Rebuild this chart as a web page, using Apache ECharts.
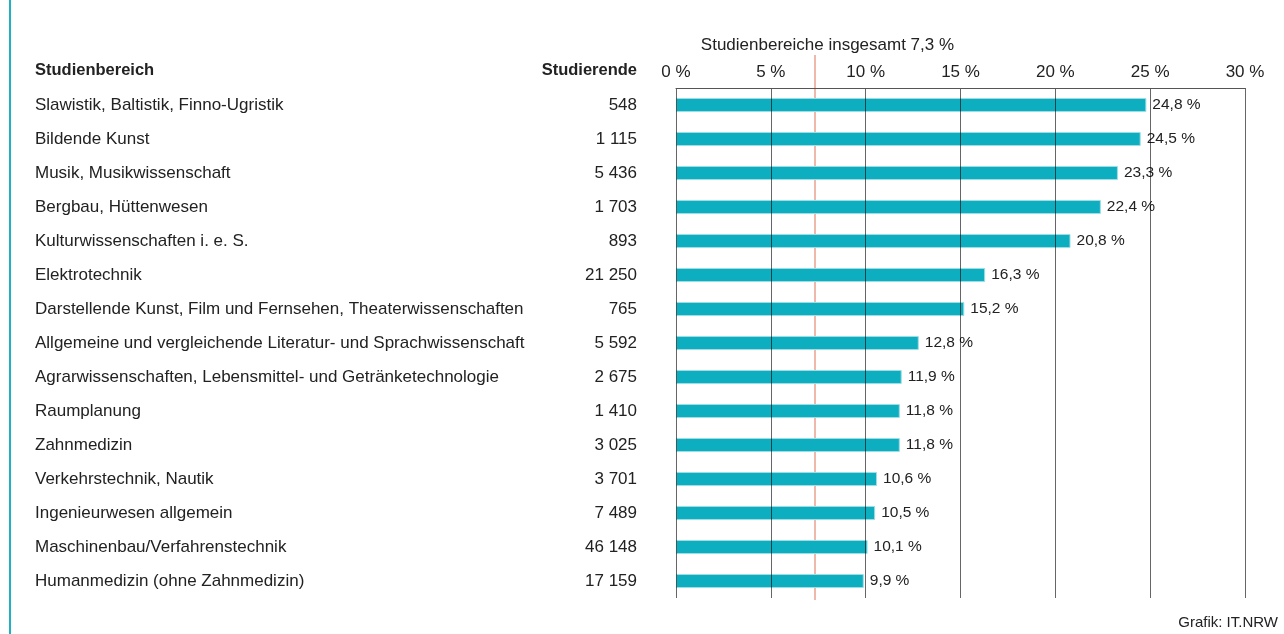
<!DOCTYPE html>
<html lang="de">
<head>
  <meta charset="UTF-8">
  <script src="https://cdn.jsdelivr.net/npm/echarts@6/dist/echarts.min.js"></script>
  <style>
    body { margin: 0; width: 1284px; height: 634px; overflow: hidden; background: #fff; }
    #main { width: 1284px; height: 634px; }
    #edge { position: absolute; left: 9px; top: 0; width: 2px; height: 634px; background: #1fb1c2; }
  </style>
  <title>Studienbereiche</title>
</head>
<body>
  <div id="edge"></div>
  <div id="main"></div>
  <script>
    // Studienbereiche, Anzahl Studierende, Anteil in %
    const bereiche = [
      'Slawistik, Baltistik, Finno-Ugristik',
      'Bildende Kunst',
      'Musik, Musikwissenschaft',
      'Bergbau, Hüttenwesen',
      'Kulturwissenschaften i. e. S.',
      'Elektrotechnik',
      'Darstellende Kunst, Film und Fernsehen, Theaterwissenschaften',
      'Allgemeine und vergleichende Literatur- und Sprachwissenschaft',
      'Agrarwissenschaften, Lebensmittel- und Getränketechnologie',
      'Raumplanung',
      'Zahnmedizin',
      'Verkehrstechnik, Nautik',
      'Ingenieurwesen allgemein',
      'Maschinenbau/Verfahrenstechnik',
      'Humanmedizin (ohne Zahnmedizin)'
    ];
    const studierende = [548, 1115, 5436, 1703, 893, 21250, 765, 5592, 2675, 1410, 3025, 3701, 7489, 46148, 17159];
    const anteil = [24.8, 24.5, 23.3, 22.4, 20.8, 16.3, 15.2, 12.8, 11.9, 11.8, 11.8, 10.6, 10.5, 10.1, 9.9];
    const insgesamt = 7.3;
    const tickMin = 0, tickMax = 30, tickStep = 5;

    const font = "'Liberation Sans', Arial, sans-serif";
    const dez = v => String(v).replace('.', ',') + ' %';
    const tausend = n => String(n).replace(/\B(?=(\d{3})+(?!\d))/g, ' ');

    var myChart = echarts.init(document.getElementById('main'));
    var option = {
      animation: false,
      textStyle: { fontFamily: font, color: '#222' },
      title: [
        { text: 'Studienbereich', left: 35, top: 62, padding: 0, textStyle: { fontFamily: font, fontSize: 16.5, fontWeight: 'bold', color: '#222' } },
        { text: 'Studierende', right: 647, top: 62, padding: 0, textStyle: { fontFamily: font, fontSize: 16.5, fontWeight: 'bold', color: '#222' } },
        { text: 'Grafik: IT.NRW', right: 6, top: 615, padding: 0, textStyle: { fontFamily: font, fontSize: 15, fontWeight: 'normal', color: '#222' } }
      ],
      grid: [
        { left: 676, right: 39, top: 88, bottom: 36 },
        { left: 676, right: 39, top: 55, bottom: 34 }
      ],
      xAxis: [
        {
          type: 'value', gridIndex: 0, position: 'top', z: 3,
          min: tickMin, max: tickMax, interval: tickStep,
          axisLine: { show: true, lineStyle: { color: '#555', width: 1 } },
          axisTick: { show: false },
          axisLabel: { margin: 7, fontSize: 17, color: '#222', fontFamily: font, formatter: v => v + ' %' },
          splitLine: { show: true, lineStyle: { color: 'rgba(0,0,0,0.6)', width: 1 } }
        },
        { type: 'value', gridIndex: 1, min: tickMin, max: tickMax, show: false }
      ],
      yAxis: [
        {
          type: 'category', gridIndex: 0, inverse: true, data: bereiche,
          axisLine: { show: false }, axisTick: { show: false },
          axisLabel: { align: 'left', margin: 641, fontSize: 17, color: '#222', fontFamily: font }
        },
        {
          type: 'category', gridIndex: 0, position: 'left', inverse: true,
          data: studierende.map(tausend),
          axisLine: { show: false }, axisTick: { show: false },
          axisLabel: { align: 'right', margin: 39, fontSize: 17, color: '#222', fontFamily: font }
        },
        { type: 'value', gridIndex: 1, min: 0, max: 1, show: false }
      ],
      series: [
        {
          name: 'Anteil',
          type: 'bar', xAxisIndex: 0, yAxisIndex: 0, z: 2,
          barWidth: 14,
          data: anteil,
          itemStyle: { color: '#0daec0', borderColor: '#9edde4', borderWidth: 1 },
          label: { show: true, position: 'right', distance: 6, fontSize: 15.5, color: '#222', fontFamily: font, formatter: p => dez(p.value) }
        },
        {
          name: 'insgesamt',
          type: 'line', xAxisIndex: 1, yAxisIndex: 2, z: 1,
          data: [],
          markLine: {
            z: 1,
            silent: true, symbol: 'none',
            lineStyle: { color: '#e9a08f', width: 1.5, type: 'solid' },
            label: {
              show: true, position: 'end', distance: 1, fontSize: 17, color: '#222', fontFamily: font,
              padding: [0, 0, 0, 26],
              formatter: 'Studienbereiche insgesamt ' + dez(insgesamt)
            },
            data: [{ xAxis: insgesamt }]
          }
        }
      ]
    };
    myChart.setOption(option);
  </script>
</body>
</html>
